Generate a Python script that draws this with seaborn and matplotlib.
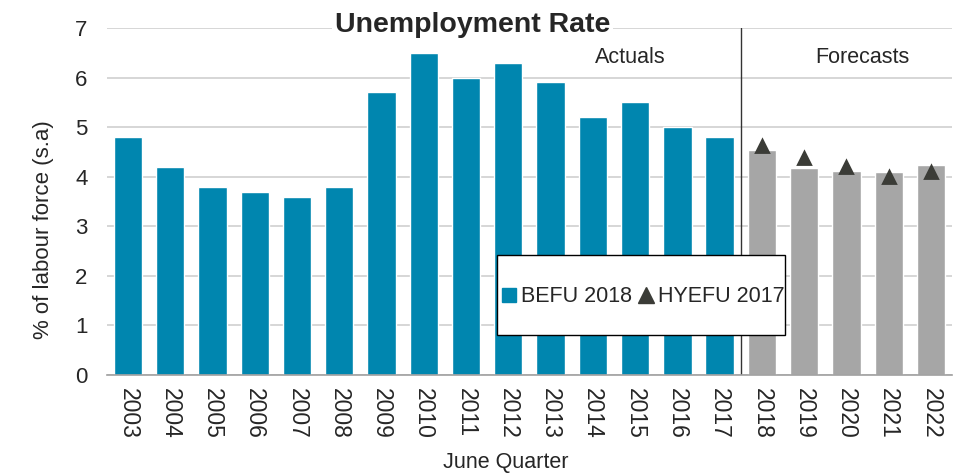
import pandas as pd
import matplotlib.pyplot as plt
import seaborn as sns
from matplotlib.lines import Line2D
from matplotlib.patches import Rectangle

years = [str(y) for y in range(2003, 2023)]
befu_2018 = [4.8, 4.2, 3.8, 3.7, 3.6, 3.8, 5.7, 6.5, 6.0, 6.3, 5.9, 5.2, 5.5, 5.0, 4.8,
             4.54, 4.17, 4.11, 4.09, 4.23]
period = ["Actuals"] * 15 + ["Forecasts"] * 5
hyefu_years = ["2018", "2019", "2020", "2021", "2022"]
hyefu_2017 = [4.62, 4.38, 4.19, 4.0, 4.1]

BLUE = "#0086AF"
GREY = "#A6A6A6"
DARK = "#3B3C37"

sns.set_style("white")
plt.rcParams["font.family"] = ["Liberation Sans", "DejaVu Sans"]

df = pd.DataFrame({"year": years, "rate": befu_2018, "period": period})
hy = pd.DataFrame({"year": hyefu_years, "rate": hyefu_2017})

fig = plt.figure(figsize=(9.54, 4.73), dpi=100)
ax = fig.add_axes([0.112, 0.207, 0.886, 0.734])

sns.barplot(data=df, x="year", y="rate", hue="period", order=years,
            palette={"Actuals": BLUE, "Forecasts": GREY}, dodge=False,
            width=0.67, saturation=1, legend=False, ax=ax)
sns.pointplot(data=hy, x="year", y="rate", order=years, linestyle="none",
              markers="^", color=DARK, markersize=9, ax=ax)

ax.set_ylim(0, 7)
ax.set_xlim(-0.5, 19.5)
ax.set_yticks(range(8))
ax.yaxis.grid(True, color="#D0D0D0", linewidth=1.2)
ax.set_axisbelow(True)
for s in ["top", "right", "left"]:
    ax.spines[s].set_visible(False)
ax.spines["bottom"].set_color("#A0A0A0")
ax.spines["bottom"].set_linewidth(1.2)

ax.set_xticks(range(20))
ax.set_xticklabels(years, rotation=270, fontsize=16.5)
ax.tick_params(axis="x", length=0, pad=9)
ax.tick_params(axis="y", length=0, labelsize=16, pad=14)
# tick marks every two categories
ax.set_xticks([i - 0.5 for i in range(0, 21, 2)], minor=True)
ax.tick_params(axis="x", which="minor", length=6, color="#A0A0A0", width=1.2)

ax.set_xlabel("June Quarter", fontsize=15.5)
ax.xaxis.set_label_coords(0.472, -0.222)
ax.set_ylabel("% of labour force (s.a)", fontsize=16)
ax.yaxis.set_label_coords(-0.063, 0.418)

ax.axvline(14.5, color="#333333", linewidth=1)
ax.text(11.88, 6.41, "Actuals", ha="center", va="center", fontsize=15.5)
ax.text(17.37, 6.41, "Forecasts", ha="center", va="center", fontsize=15.5)

fig.text(0.495, 0.947, "Unemployment Rate", ha="center", va="center",
         fontsize=20.5, fontweight="bold",
         bbox=dict(facecolor="white", edgecolor="none", pad=2))

# legend box
ax.add_patch(Rectangle((0.4615, 0.115), 0.341, 0.231, transform=ax.transAxes,
                       facecolor="white", edgecolor="black", linewidth=1, zorder=5))
handles = [
    Line2D([], [], marker="s", linestyle="none", color=BLUE, markersize=10),
    Line2D([], [], marker="^", linestyle="none", color=DARK, markersize=11),
]
leg = ax.legend(handles, ["BEFU 2018", "HYEFU 2017"], ncol=2,
                loc="center", bbox_to_anchor=(0.634, 0.225),
                fontsize=15.5, frameon=False,
                handlelength=0.7, handletextpad=0.2, columnspacing=0.3,
                borderpad=0, borderaxespad=0)
leg.set_zorder(6)

fig.savefig("out.png", dpi=100)
